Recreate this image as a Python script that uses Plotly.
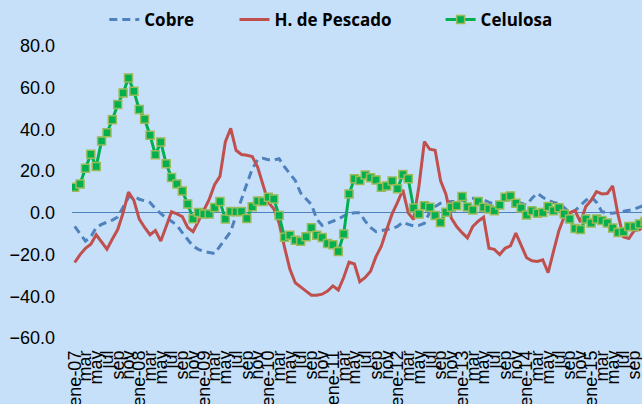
import plotly.graph_objects as go

meses = ["ene", "feb", "mar", "abr", "may", "jun", "jul", "ago", "sep", "oct", "nov", "dic"]
anios = ["07", "08", "09", "10", "11", "12", "13", "14", "15"]

cobre = [-6.5, -10, -13.5, -11.5, -7, -5.5, -4.5, -3.5, -2, 3,
         7.5, 8, 6.5, 5.8, 5, 2, -0.5, -2.5, -4, -6,
         -9.5, -13, -16, -17.5, -18.5, -19, -19.5, -16, -12.5, -9,
         -1, 7, 14, 21, 25.5, 26.2, 25.5, 25.3, 26, 22,
         18.5, 15.5, 9.5, 7, 4, -3, -6, -5, -4, -3,
         -1.5, -0.3, 0, 0, -4, -7, -9, -8.5, -8, -7.5,
         -6.5, -4.5, -5.5, -6.2, -6, -5, 0.3, 3, 4.6, 5,
         5.4, 5.4, 5.8, 6.5, 7, 6.8, 6.3, 5, 4.3, 3,
         5, 7, 5.5, 4.5, 3.8, 7, 9.4, 7.5, 6, 5,
         4.5, 2.5, 0, 1, 3.5, 6, 7.8, 5, 0.5, 0,
         -0.2, 0.3, 0.6, 1.2, 1.8, 3, 3.8]

pescado = [-23.8, -20, -17, -15, -10.5, -14, -17.4, -12.5, -8, 0,
           10, 6, -3, -7, -10.5, -8.5, -13.5, -6.5, 0.5, -0.5,
           -1.8, -7, -9, -4, 1, 6.5, 13.5, 17.5, 34, 40.5,
           30, 28, 27.6, 27, 22, 13, 5, 2, -5, -16.5,
           -27, -33.5, -35.3, -37.5, -39.5, -39.5, -39, -37.5, -35, -37,
           -31, -23.6, -24.5, -33, -31, -28, -21, -16, -8, -0.5,
           5, 11, 0, -3.2, 13, 34.2, 30.5, 30, 15.5, 9,
           -2.5, -6.6, -9.5, -12, -6.5, -4, -2.1, -17, -17.5, -20,
           -17, -15.8, -9.7, -16, -21.5, -23, -23.3, -22.5, -28.7, -18.5,
           -8.5, -1.8, 0, 1.1, -4.5, 3, 6, 10.2, 9.1, 9.3,
           12.9, -1, -11.5, -12.3, -8.5, -8, -6]

celulosa = [12.3, 13.8, 21.4, 28.1, 22.2, 34.5, 38.4, 44.6, 51.9, 57.5,
            64.7, 58.3, 49.5, 44.9, 37.2, 27.8, 34.0, 23.5, 16.9, 13.8,
            10.5, 4.3, -2.8, 0.2, -0.6, -0.5, 2.6, 5.4, -2.9, 0.6,
            0.5, 0.6, -2.7, 2.9, 5.7, 5.4, 7.5, 6.7, -1.3, -11.7,
            -10.7, -13.1, -13.6, -11.5, -7.2, -10.7, -11.8, -14.7, -15.3, -18.5,
            -10.1, 9.1, 16.3, 15.5, 18.1, 16.8, 15.8, 12.3, 12.9, 15.3,
            11.5, 18.4, 16.3, 2.3, -0.6, 3.4, 2.7, -1.3, -4.6, 0.3,
            2.7, 3.4, 7.9, 2.8, 1.4, 5.4, 2.7, 1.9, 1.0, 3.8,
            7.5, 8.1, 4.6, 2.3, -1.0, 1.0, -0.2, 0.2, 3.0, 1.0,
            2.5, -0.5, -2.9, -7.5, -8.0, -2.9, -4.9, -2.9, -3.7, -4.9,
            -7.3, -9.4, -9.1, -6.6, -6.6, -5.3, -4.2]

n = len(celulosa)
etiquetas = []
for k in range(n):
    m = meses[k % 12]
    etiquetas.append(m + "-" + anios[k // 12] if k % 12 == 0 else m)
xs = list(range(n))
tickvals = xs[::2]
ticktext = etiquetas[::2]

bg = "#C6E0FA"

fig = go.Figure()
fig.add_trace(go.Scatter(x=xs, y=cobre, name="<b>Cobre</b>" + "\u00a0" * 8, mode="lines",
                         line=dict(color="#4F81BD", width=3, dash="8px,5px")))
fig.add_trace(go.Scatter(x=xs, y=pescado, name="<b>H. de Pescado</b>" + "\u00a0" * 10, mode="lines",
                         line=dict(color="#C0504D", width=3)))
fig.add_trace(go.Scatter(x=xs, y=celulosa, name="<b>Celulosa</b>", mode="lines+markers",
                         line=dict(color="#00B050", width=3),
                         marker=dict(symbol="square", size=8, color="#00B050",
                                     line=dict(color="#9BBB59", width=1.5))))

fig.update_layout(
    width=642, height=404,
    paper_bgcolor=bg, plot_bgcolor=bg,
    margin=dict(l=72, r=0, t=46, b=66),
    font=dict(family="Liberation Sans, Arial", color="#000000"),
    showlegend=True,
    legend=dict(orientation="h", xref="container", yref="container",
                x=0.516, xanchor="center", y=1 - 20 / 404, yanchor="middle",
                font=dict(family="Open Sans, Liberation Sans", size=17, color="#000000"),
                bgcolor="rgba(0,0,0,0)", itemwidth=30),
    xaxis=dict(range=[-0.5, 105.45], tickvals=tickvals, ticktext=ticktext,
               tickangle=-90, tickfont=dict(size=18), showgrid=False,
               zeroline=False, showline=False, ticks="", ticklabelstandoff=8,
               ticklabeloverflow="allow", automargin=False),
    yaxis=dict(range=[-60, 80], dtick=20, tickformat=".1f", tickfont=dict(size=18),
               showgrid=False, zeroline=True, zerolinecolor="#4F81BD", zerolinewidth=1,
               showline=False, ticks="", ticklabelstandoff=16, automargin=False),
)

fig.write_html("out.html", config={"displayModeBar": False},
               post_script="document.body.style.margin='0';document.body.style.overflow='hidden';")
